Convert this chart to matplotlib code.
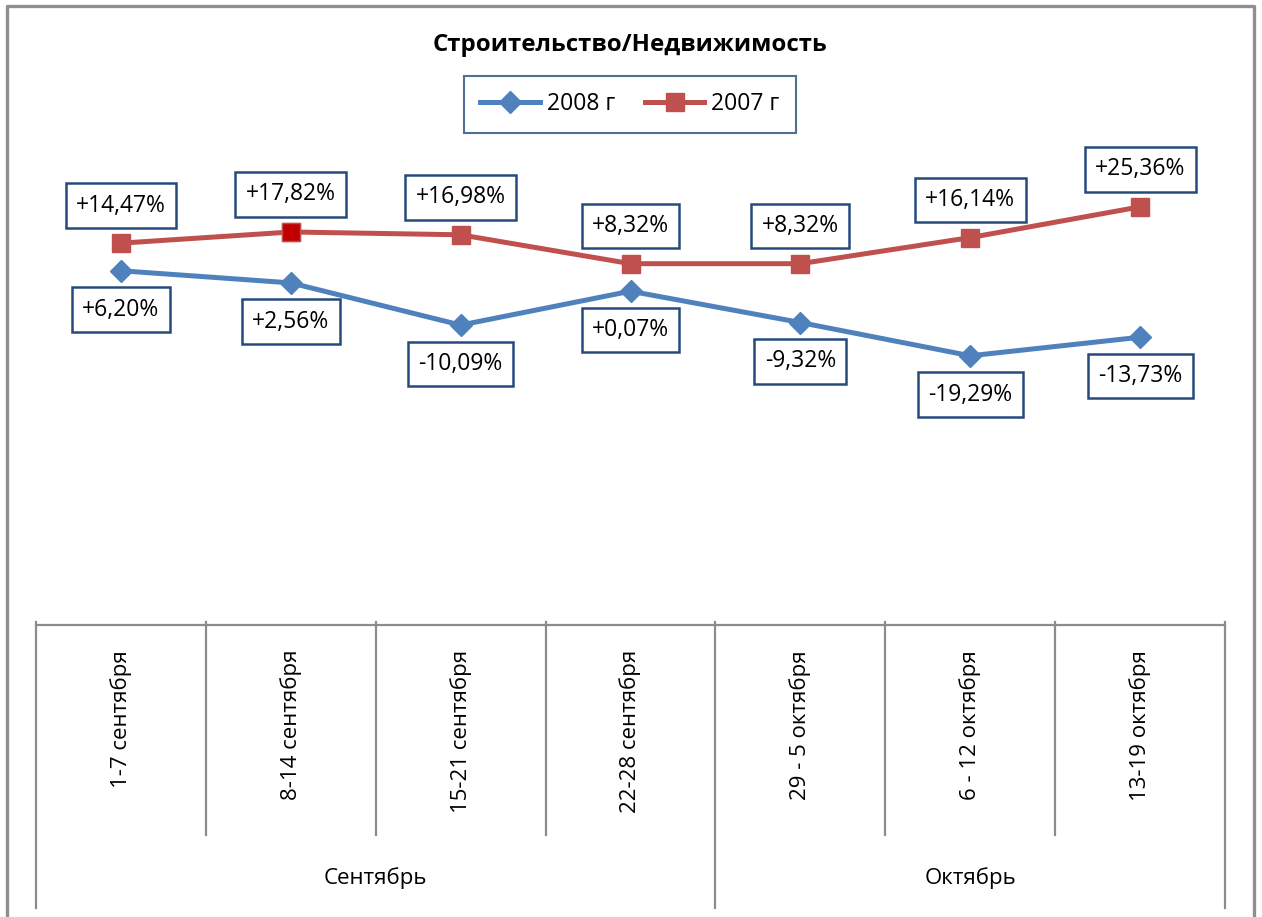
import matplotlib
matplotlib.use('Agg')
import matplotlib.pyplot as plt
import matplotlib.transforms as mtransforms
from matplotlib.lines import Line2D

plt.rcParams['font.family'] = ['Open Sans', 'DejaVu Sans']

weeks = ['1-7 сентября', '8-14 сентября', '15-21 сентября', '22-28 сентября',
         '29 - 5 октября', '6 - 12 октября', '13-19 октября']
months = ['Сентябрь', 'Октябрь']
month_spans = [(0, 4), (4, 7)]  # [start, end) week indexes
y2008 = [6.20, 2.56, -10.09, 0.07, -9.32, -19.29, -13.73]
y2007 = [14.47, 17.82, 16.98, 8.32, 8.32, 16.14, 25.36]

blue = '#4F81BD'
red = '#C0504D'
box_edge = '#264A7C'
grid_gray = '#8C8C8C'

W, H = 1262, 917
fig = plt.figure(figsize=(W / 100, H / 100), dpi=100)

def fy(py):
    return 1 - py / H

ax = fig.add_axes([36 / W, fy(625), (1225 - 36) / W, (625 - 158) / H])
ax.set_xlim(-0.5, len(weeks) - 0.5)
ax.set_ylim(-100, 40)
ax.axis('off')

x = list(range(len(weeks)))
ax.plot(x, y2008, color=blue, lw=3.6, marker='D', ms=11, mec=blue, mfc=blue, zorder=3)
ax.plot(x, y2007, color=red, lw=3.6, marker='s', ms=12.5, mec=red, mfc=red, zorder=3)
# highlighted point
ax.plot([1], [y2007[1]], ls='none', marker='s', ms=12.5, mfc='#C00000', mec=red, zorder=4)

box = dict(boxstyle='square,pad=0.45', fc='white', ec=box_edge, lw=1.8)

def fmt(v):
    s = f'{v:+.2f}%'
    return s.replace('.', ',')

for xi, v in zip(x, y2007):
    ax.annotate(fmt(v), (xi, v), xytext=(0, 27), textcoords='offset points',
                ha='center', va='center', fontsize=16.5, bbox=box, zorder=5)
for xi, v in zip(x, y2008):
    ax.annotate(fmt(v), (xi, v), xytext=(0, -28), textcoords='offset points',
                ha='center', va='center', fontsize=16.5, bbox=box, zorder=5)

# category table below the plot
tr = mtransforms.blended_transform_factory(ax.transData, fig.transFigure)
lkw = dict(color=grid_gray, lw=1.6, transform=tr, clip_on=False)
ax.add_line(Line2D([-0.5, len(weeks) - 0.5], [fy(625), fy(625)], **lkw))
outer = {-0.5} | {s - 0.5 for s, e in month_spans} | {e - 0.5 for s, e in month_spans}
for i in range(len(weeks) + 1):
    b = i - 0.5
    bottom = 908 if b in outer else 835
    ax.add_line(Line2D([b, b], [fy(622), fy(bottom)], **lkw))

for xi, w in zip(x, weeks):
    ax.text(xi, fy(650), w, transform=tr, rotation=90, ha='center', va='top', fontsize=16)
for (s, e), m in zip(month_spans, months):
    ax.text((s + e - 1) / 2, fy(878), m, transform=tr, ha='center', va='center', fontsize=16)

fig.text(630 / W, fy(45), 'Строительство/Недвижимость', ha='center', va='center',
         fontsize=17.3, fontweight='bold')

handles = [Line2D([], [], color=blue, lw=3.6, marker='D', ms=11),
           Line2D([], [], color=red, lw=3.6, marker='s', ms=12.5)]
leg = fig.legend(handles, ['2008 г', '2007 г'], loc='center', ncol=2,
                 bbox_to_anchor=(630 / W, fy(104.5)), fontsize=16.5, frameon=True,
                 fancybox=False, handlelength=2.6, columnspacing=1.3, handletextpad=0.3,
                 borderpad=0.7)
leg.get_frame().set_edgecolor(box_edge)
leg.get_frame().set_linewidth(1.5)

# outer chart frame
frame = Line2D([7 / W, 7 / W, 1254 / W, 1254 / W], [0, fy(6), fy(6), 0],
               color='#8F8F8F', lw=2.4, transform=fig.transFigure)
fig.add_artist(frame)

fig.savefig('out.png', dpi=100)
